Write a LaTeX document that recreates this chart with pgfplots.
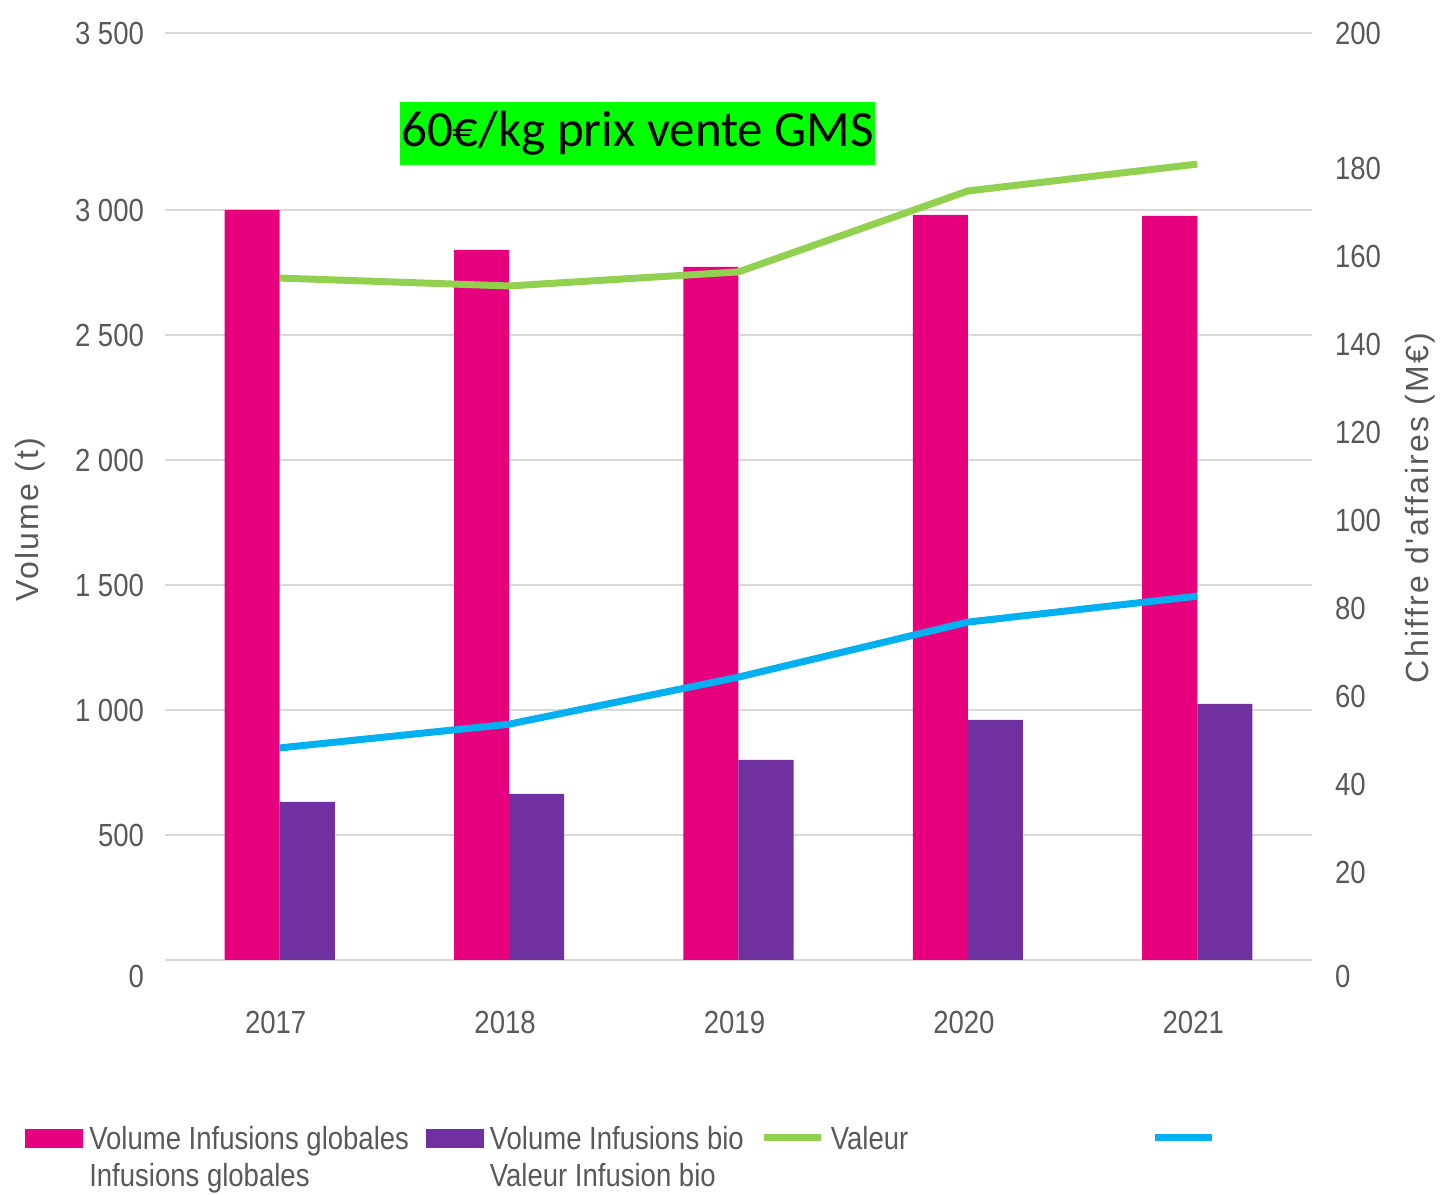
\documentclass[border=0pt]{standalone}
\usepackage{pgfplots}
\pgfplotsset{compat=1.18}
\usepackage{fontspec}
\setmainfont{Liberation Sans}[FakeStretch=0.86]
\newfontfamily\labelfont{Liberation Sans}[LetterSpace=7]
\newfontfamily\boxfont{Carlito}
\definecolor{pinkc}{HTML}{E6007E}
\definecolor{purplec}{HTML}{7030A0}
\definecolor{greenc}{HTML}{92D050}
\definecolor{bluec}{HTML}{00B0F0}
\definecolor{txt}{HTML}{595959}
\definecolor{gridc}{HTML}{D9D9D9}
\definecolor{boxgreen}{HTML}{00FF00}
\begin{document}
\begin{tikzpicture}[x=1pt,y=1pt]
\path[use as bounding box] (0,0) rectangle (720,597);
\begin{axis}[
  at={(82.5pt,117pt)}, anchor=south west,
  scale only axis, width=573.5pt, height=463.5pt,
  xmin=-0.5, xmax=4.5, ymin=0, ymax=3708,
  axis x line=bottom, axis y line=left,
  axis line style={draw=none}, tick style={draw=none}, major tick length=0pt,
  xtick={0,1,2,3,4}, xticklabels={2017,2018,2019,2020,2021},
  ytick={500,1000,1500,2000,2500,3000,3708},
  yticklabels={500,1 000,1 500,2 000,2 500,3 000,3 500},
  extra y ticks={0}, extra y tick labels={0},
  extra y tick style={grid=major, yticklabel style={yshift=-8pt}},
  ymajorgrids, grid style={gridc, line width=0.8pt},
  tick label style={font=\fontsize{16}{19}\selectfont, text=txt},
  yticklabel style={xshift=-7pt},
  xticklabel style={yshift=-22pt, xshift=-2pt},
  ylabel={\labelfont\fontsize{16}{19}\selectfont Volume (t)},
  ylabel style={at={(axis description cs:-0.1177,0.475)}, anchor=center, text=txt},
]
\addplot[ybar, bar width=0.24, bar shift=-0.12, fill=pinkc, draw=none] coordinates {(0,3000) (1,2840) (2,2772) (3,2980) (4,2976)};
\addplot[ybar, bar width=0.24, bar shift=0.12, fill=purplec, draw=none] coordinates {(0,632) (1,664) (2,800) (3,960) (4,1024)};
\node[fill=boxgreen, minimum width=237.5pt, minimum height=31.5pt, inner sep=0pt, text=black]
  at (axis description cs:0.412,0.8916) {\boxfont\fontsize{25.5}{28}\selectfont\raisebox{-1.5pt}{60€/kg prix vente GMS}};
\end{axis}
\begin{axis}[
  at={(82.5pt,117pt)}, anchor=south west,
  scale only axis, width=573.5pt, height=463.5pt,
  xmin=-0.5, xmax=4.5, ymin=0, ymax=210.7,
  axis x line=none, axis y line=right,
  axis line style={draw=none}, tick style={draw=none}, major tick length=0pt,
  ytick={20,40,60,80,100,120,140,160,180,210.7},
  yticklabels={20,40,60,80,100,120,140,160,180,200},
  extra y ticks={0}, extra y tick labels={0},
  extra y tick style={yticklabel style={yshift=-8pt}},
  tick label style={font=\fontsize{16}{19}\selectfont, text=txt},
  yticklabel style={xshift=8pt},
  ylabel={\labelfont\fontsize{16}{19}\selectfont Chiffre d'affaires (M€)},
  ylabel style={at={(axis description cs:1.094,0.4876)}, anchor=center, rotate=0, text=txt},
  legend columns=4,
  legend style={at={(-0.122,-0.1748)}, anchor=north west, draw=none, fill=none, inner sep=0pt,
    font=\fontsize{16}{19}\selectfont, text=txt, row sep=3pt,
    cells={anchor=west},
    nodes={text height=12.5pt, text depth=1pt, inner ysep=1pt, inner xsep=3pt},
    /tikz/every even column/.append style={column sep=5.5pt}},
]
\addlegendimage{legend image code/.code={\fill[pinkc] (0pt,-4.5pt) rectangle (28.5pt,4.5pt);}}
\addlegendentry{Volume Infusions globales}
\addlegendimage{legend image code/.code={\fill[purplec] (0pt,-4.5pt) rectangle (28.5pt,4.5pt);}}
\addlegendentry{Volume Infusions bio}
\addlegendimage{legend image code/.code={\draw[greenc, line width=3.5pt] (0pt,0pt) -- (28.5pt,0pt);}}
\addlegendentry{\makebox[152pt][l]{Valeur}}
\addlegendimage{legend image code/.code={\draw[bluec, line width=3.5pt] (0pt,0pt) -- (28.5pt,0pt);}}
\addlegendentry{}
\addlegendimage{legend image code/.code={\path[draw=none,fill=none] (0pt,0pt) rectangle (28.5pt,0pt);}}
\addlegendentry{Infusions globales}
\addlegendimage{legend image code/.code={\path[draw=none,fill=none] (0pt,0pt) rectangle (28.5pt,0pt);}}
\addlegendentry{Valeur Infusion bio}
\addplot[greenc, line width=3.5pt, forget plot] coordinates {(0,155.0) (1,153.2) (2,156.4) (3,174.8) (4,180.9)};
\addplot[bluec, line width=3.5pt, forget plot] coordinates {(0,48.2) (1,53.6) (2,64.3) (3,76.8) (4,82.7)};
\end{axis}
\end{tikzpicture}
\end{document}
